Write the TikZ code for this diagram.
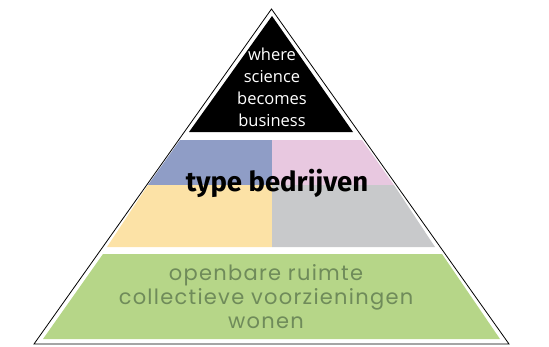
\documentclass[tikz,border=0pt]{standalone}
\usepackage{fontspec}
\setmainfont{Open Sans}
\newfontfamily\headfont{Fira Sans}
\newfontfamily\basefont[LetterSpace=6]{Poppins}
\usetikzlibrary{calc}
\definecolor{layblue}{HTML}{8F9DC6}
\definecolor{laypink}{HTML}{E8C8E0}
\definecolor{layyellow}{HTML}{FCE2A6}
\definecolor{laygray}{HTML}{C8C9CB}
\definecolor{laygreen}{HTML}{B6D688}
\definecolor{laytext}{HTML}{6F8B5A}
\tikzstyle{toptext} = [align=center,text=white,font=\fontsize{16.5}{22}\selectfont,inner sep=0pt]
\tikzstyle{midtext} = [font=\headfont\bfseries\fontsize{27.5}{30}\selectfont,inner sep=0pt]
\tikzstyle{basetext} = [align=center,text=laytext,font=\basefont\fontsize{21}{24}\selectfont,inner sep=0pt]

\begin{document}
\begin{tikzpicture}[x=1pt,y=-1pt]
	\useasboundingbox (0,0) rectangle (549,346);
	
	%% outline
	\coordinate (apex) at (271.5,9); \coordinate (bl) at (34,344); \coordinate (br) at (509,344);
	\draw[line width=0.8pt] (apex) -- (br) -- (bl) -- cycle;
	
	%% layers
	\fill[black] (272,16) -- (353,132) -- (189,132) -- cycle;
	\fill[layblue] (180,140) -- (272,140) -- (272,185) -- (148,185) -- cycle;
	\fill[laypink] (272,140) -- (362,140) -- (394,185) -- (272,185) -- cycle;
	\fill[layyellow] (148,185) -- (272,185) -- (272,247) -- (107,247) -- cycle;
	\fill[laygray] (272,185) -- (394,185) -- (435,247) -- (272,247) -- cycle;
	\fill[laygreen] (103,254) -- (442,254) -- (500,339) -- (43,339) -- cycle;
	
	%% texts
	\node[toptext] (top) at (272,87) {where\\science\\becomes\\business};
	\node[midtext] (mid) at (277,183) {type bedrijven};
	\node[basetext] (base) at (266,297) {openbare ruimte\\collectieve voorzieningen\\wonen};
\end{tikzpicture}
\end{document}
